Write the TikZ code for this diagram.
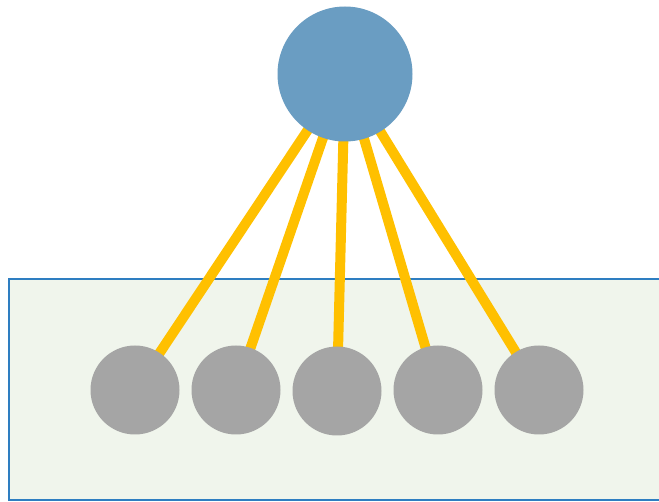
\documentclass[tikz,border=0pt]{standalone}
\definecolor{hubblue}{HTML}{6A9DC2}
\definecolor{leafgray}{HTML}{A5A5A5}
\definecolor{linkyellow}{HTML}{FFC000}
\definecolor{panelfill}{HTML}{F0F5EC}
\definecolor{panelline}{HTML}{2E7EC1}
\pgfdeclarelayer{panellayer}
\pgfdeclarelayer{linklayer}
\pgfsetlayers{panellayer,linklayer,main}
\tikzset{
  hub/.style={circle, fill=hubblue, minimum size=135pt, inner sep=0pt},
  leaf/.style={circle, fill=leafgray, minimum size=89pt, inner sep=0pt},
  link/.style={draw=linkyellow, line width=10pt},
  panel/.style={draw=panelline, fill=panelfill, line width=2.2pt}
}
\begin{document}
\begin{tikzpicture}[x=1pt, y=-1pt]
  \useasboundingbox (0,0) rectangle (659,502);
  \clip (0,0) rectangle (659,502);
  % container panel, running past the right edge
  \begin{pgfonlayer}{panellayer}
    \draw[panel] (9,279) rectangle (670,500);
  \end{pgfonlayer}
  % nodes
  \node[hub] (h) at (345,74) {};
  \node[leaf] (l1) at (135,390) {};
  \node[leaf] (l2) at (236,390) {};
  \node[leaf] (l3) at (337,391) {};
  \node[leaf] (l4) at (438,390) {};
  \node[leaf] (l5) at (539,390) {};
  % links run centre to centre, underneath the circles
  \begin{pgfonlayer}{linklayer}
    \foreach \n in {l1,l2,l3,l4,l5}
      \draw[link] (h.center) -- (\n.center);
  \end{pgfonlayer}
\end{tikzpicture}
\end{document}
